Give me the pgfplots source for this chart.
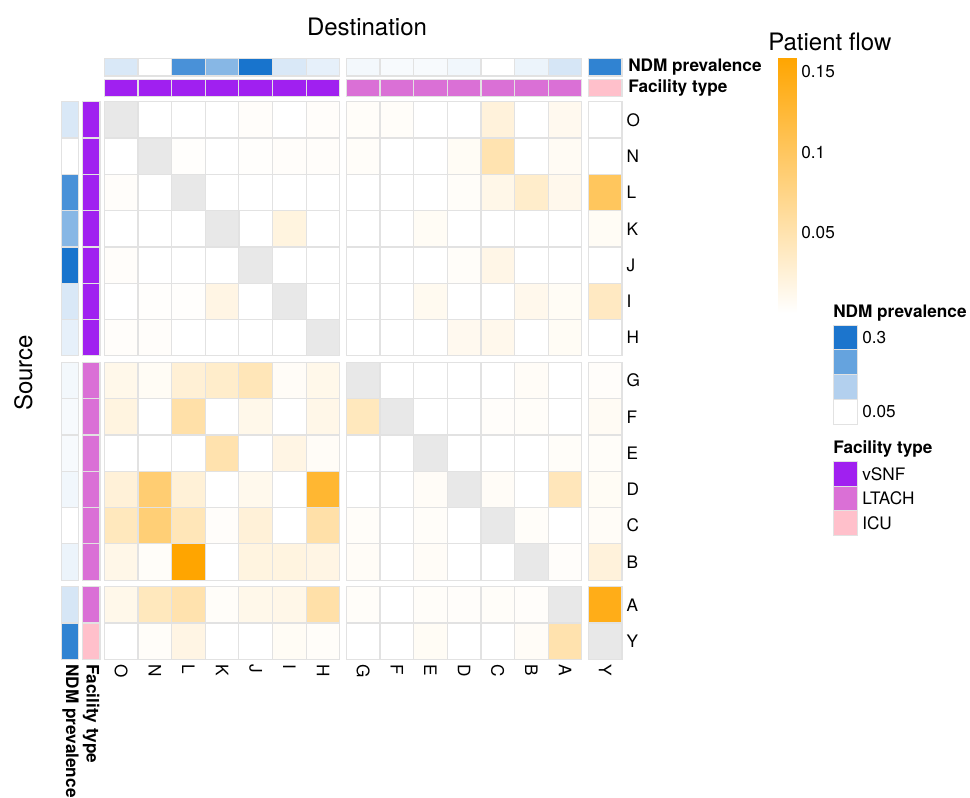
\documentclass[border=0pt]{standalone}
\usepackage{pgfplots}
\pgfplotsset{compat=1.18}
\usepackage{pgfplotstable}
\usepackage{fontspec}
\setmainfont{TeX Gyre Heros}
\usetikzlibrary{calc}

\definecolor{cellborder}{RGB}{226,226,226}
\definecolor{diaggray}{RGB}{232,232,232}
\definecolor{vsnf}{RGB}{160,32,240}
\definecolor{ltach}{RGB}{218,112,214}
\definecolor{icu}{RGB}{255,192,203}
\definecolor{ndmA}{RGB}{28,117,205}
\definecolor{ndmB}{RGB}{101,163,222}
\definecolor{ndmC}{RGB}{179,208,238}

\newcommand\lab{\fontsize{12.9}{15}\selectfont}
\newcommand\ttl{\fontsize{18}{21}\selectfont}

\pgfdeclareplotmark{cell}{\pgfpathrectangle{\pgfpoint{-12.62pt}{-13.61pt}}{\pgfpoint{25.24pt}{27.22pt}}\pgfusepathqfillstroke}
\pgfdeclareplotmark{tcell}{\pgfpathrectangle{\pgfpoint{-12.62pt}{-6.6pt}}{\pgfpoint{25.24pt}{13.2pt}}\pgfusepathqfillstroke}
\pgfdeclareplotmark{lcell}{\pgfpathrectangle{\pgfpoint{-6.6pt}{-13.61pt}}{\pgfpoint{13.2pt}{27.22pt}}\pgfusepathqfillstroke}

% rows = source, columns = destination; order O N L K J I H G F E D C B A Y
\pgfplotstableread{
r c0 c1 c2 c3 c4 c5 c6 c7 c8 c9 c10 c11 c12 c13 c14
0 0 0 0 0 0.003 0 0.003 0.004 0.004 0 0 0.022 0 0.010 0
1 0 0 0.002 0 0.002 0.003 0.003 0.004 0 0 0.006 0.049 0 0.007 0
2 0.003 0 0 0 0 0 0 0 0 0 0.004 0.014 0.032 0.012 0.100
3 0 0 0 0 0 0.020 0 0 0 0.006 0 0 0 0 0.006
4 0.003 0 0 0 0 0 0 0 0 0 0.004 0.015 0 0 0
5 0 0.002 0.002 0.017 0 0 0 0 0 0.009 0 0 0.012 0.006 0.038
6 0.003 0.003 0 0 0 0 0 0 0 0 0.010 0.012 0 0.006 0
7 0.013 0.006 0.026 0.032 0.044 0.005 0.013 0 0 0 0 0 0.005 0 0.003
8 0.019 0 0.054 0 0.013 0 0.014 0.041 0 0 0 0.003 0.004 0 0.007
9 0 0 0 0.050 0 0.017 0.005 0 0 0 0 0 0 0.004 0.004
10 0.024 0.087 0.025 0 0.011 0 0.127 0 0 0.005 0 0.005 0 0.043 0.006
11 0.041 0.085 0.044 0.003 0.024 0 0.054 0.004 0 0.004 0 0 0.004 0 0.005
12 0.014 0.004 0.159 0 0.019 0.019 0.017 0.005 0 0.005 0 0 0 0.003 0.022
13 0.013 0.041 0.050 0.004 0.013 0.014 0.054 0.004 0 0.004 0.003 0.004 0.003 0 0.143
14 0 0.004 0.017 0 0 0.006 0.004 0 0 0.006 0 0 0.005 0.050 0
}\flow

\pgfplotstableread{
i ndm fac
0 0.091 v
1 0.050 v
2 0.246 v
3 0.179 v
4 0.298 v
5 0.091 v
6 0.077 v
7 0.063 l
8 0.059 l
9 0.059 l
10 0.065 l
11 0.050 l
12 0.070 l
13 0.094 l
14 0.272 i
}\ann

\begin{document}
\begin{tikzpicture}
\begin{scope}[x=0.75pt,y=-0.75pt]
\path[use as bounding box] (0,0) rectangle (970,796);
\end{scope}

% main heatmap
\begin{axis}[name=main, at={(78.23pt,-76.28pt)}, anchor=north west,
  scale only axis, width=388.28pt, height=418.2pt,
  xmin=0, xmax=15.386, ymin=0, ymax=15.36, y dir=reverse, clip=false,
  axis line style={draw=none}, major tick length=0pt,
  axis on top,
  xtick={0.5,1.5,2.5,3.5,4.5,5.5,6.5,7.693,8.693,9.693,10.693,11.693,12.693,13.693,14.886},
  xticklabels={O,N,L,K,J,I,H,G,F,E,D,C,B,A,Y},
  ytick={0.5,1.5,2.5,3.5,4.5,5.5,6.5,7.68,8.68,9.68,10.68,11.68,12.68,13.86,14.86},
  yticklabels={O,N,L,K,J,I,H,G,F,E,D,C,B,A,Y},
  xticklabel pos=left, yticklabel pos=right,
  xticklabel style={rotate=-90, anchor=west, font=\lab},
  yticklabel style={anchor=west, font=\lab},
  colormap={flow}{rgb255=(255,255,255) rgb255=(255,165,0)},
  point meta min=0, point meta max=0.159,
  colorbar,
  colorbar style={at={($(parent axis.north east)+(108.75pt,33.5pt)$)}, anchor=north west,
    scale only axis, width=13.7pt, height=192pt,
    ytick={0.05,0.1,0.15}, yticklabels={0.05,0.1,0.15},
    yticklabel style={font=\lab, anchor=west},
    axis line style={draw=none}, major tick length=0pt},
]
\pgfplotsinvokeforeach{0,...,14}{
  \addplot[scatter, only marks, mark=cell, mark options={line width=0.9pt},
    point meta=explicit, scatter/use mapped color={draw=cellborder, fill=mapped color}]
    table[x expr={#1+0.5+0.193*(#1>6)+0.193*(#1>13)},
          y expr={\thisrow{r}+0.5+0.18*(\thisrow{r}>6)+0.18*(\thisrow{r}>12)},
          meta=c#1] {\flow};
}
\addplot[only marks, mark=cell, mark options={fill=diaggray, draw=cellborder, line width=0.9pt}]
  coordinates {(0.5,0.5)(1.5,1.5)(2.5,2.5)(3.5,3.5)(4.5,4.5)(5.5,5.5)(6.5,6.5)
  (7.693,7.68)(8.693,8.68)(9.693,9.68)(10.693,10.68)(11.693,11.68)(12.693,12.68)
  (13.693,13.86)(14.886,14.86)};
\end{axis}

% top annotations
\begin{axis}[at={(78.23pt,-43.73pt)}, anchor=north west,
  scale only axis, width=388.28pt, height=28.8pt,
  xmin=0, xmax=15.386, ymin=58.3, ymax=96.7, y dir=reverse, hide axis, clip=false,
  colormap={ndm}{rgb255=(255,255,255) rgb255=(24,116,205)},
  point meta min=0.05, point meta max=0.3]
\addplot[scatter, only marks, mark=tcell, mark options={line width=0.9pt},
  point meta=explicit, scatter/use mapped color={draw=cellborder, fill=mapped color}]
  table[x expr={\thisrow{i}+0.5+0.193*(\thisrow{i}>6)+0.193*(\thisrow{i}>13)}, y expr=67.2, meta=ndm] {\ann};
\addplot[scatter, only marks, point meta=explicit symbolic,
  scatter/classes={v={mark=tcell, fill=vsnf, draw=cellborder, line width=0.9pt},
                   l={mark=tcell, fill=ltach, draw=cellborder, line width=0.9pt},
                   i={mark=tcell, fill=icu, draw=cellborder, line width=0.9pt}}]
  table[x expr={\thisrow{i}+0.5+0.193*(\thisrow{i}>6)+0.193*(\thisrow{i}>13)}, y expr=88, meta=fac] {\ann};
\end{axis}

% left annotations
\begin{axis}[at={(45.75pt,-76.28pt)}, anchor=north west,
  scale only axis, width=29.25pt, height=418.2pt,
  xmin=61, xmax=100, ymin=0, ymax=15.36, y dir=reverse, hide axis, clip=false,
  colormap={ndm}{rgb255=(255,255,255) rgb255=(24,116,205)},
  point meta min=0.05, point meta max=0.3]
\addplot[scatter, only marks, mark=lcell, mark options={line width=0.9pt},
  point meta=explicit, scatter/use mapped color={draw=cellborder, fill=mapped color}]
  table[x expr=70, y expr={\thisrow{i}+0.5+0.18*(\thisrow{i}>6)+0.18*(\thisrow{i}>12)}, meta=ndm] {\ann};
\addplot[scatter, only marks, point meta=explicit symbolic,
  scatter/classes={v={mark=lcell, fill=vsnf, draw=cellborder, line width=0.9pt},
                   l={mark=lcell, fill=ltach, draw=cellborder, line width=0.9pt},
                   i={mark=lcell, fill=icu, draw=cellborder, line width=0.9pt}}]
  table[x expr=91.15, y expr={\thisrow{i}+0.5+0.18*(\thisrow{i}>6)+0.18*(\thisrow{i}>12)}, meta=fac] {\ann};
\end{axis}

\begin{scope}[x=0.75pt,y=-0.75pt]
\node[font=\ttl, anchor=base, inner sep=0] at (367,35) {Destination};
\node[font=\ttl, rotate=90, anchor=base, inner sep=0] at (32,373) {Source};
\node[font=\lab\bfseries, anchor=west, inner sep=0] at (628,67.2) {NDM prevalence};
\node[font=\lab\bfseries, anchor=west, inner sep=0] at (628,88) {Facility type};
\node[font=\lab\bfseries, rotate=-90, anchor=west, inner sep=0] at (70.5,664) {NDM prevalence};
\node[font=\lab\bfseries, rotate=-90, anchor=west, inner sep=0] at (91.2,664) {Facility type};
\node[font=\ttl, anchor=base west, inner sep=0] at (768,50.5) {Patient flow};
% NDM prevalence legend
\node[font=\lab\bfseries, anchor=base west, inner sep=0] at (833,317) {NDM prevalence};
\filldraw[fill=ndmA, draw=cellborder, line width=0.6pt] (833,325) rectangle (857,349.75);
\filldraw[fill=ndmB, draw=cellborder, line width=0.6pt] (833,349.75) rectangle (857,374.5);
\filldraw[fill=ndmC, draw=cellborder, line width=0.6pt] (833,374.5) rectangle (857,399.25);
\filldraw[fill=white, draw=cellborder, line width=0.6pt] (833,399.25) rectangle (857,424);
\node[font=\lab, anchor=west, inner sep=0] at (862,338) {0.3};
\node[font=\lab, anchor=west, inner sep=0] at (862,412) {0.05};
% Facility type legend
\node[font=\lab\bfseries, anchor=base west, inner sep=0] at (833,453.5) {Facility type};
\filldraw[fill=vsnf, draw=cellborder, line width=0.6pt] (833,461.7) rectangle (857,486);
\filldraw[fill=ltach, draw=cellborder, line width=0.6pt] (833,486) rectangle (857,510.5);
\filldraw[fill=icu, draw=cellborder, line width=0.6pt] (833,510.5) rectangle (857,535);
\node[font=\lab, anchor=west, inner sep=0] at (862,474) {vSNF};
\node[font=\lab, anchor=west, inner sep=0] at (862,498) {LTACH};
\node[font=\lab, anchor=west, inner sep=0] at (862,523) {ICU};
\end{scope}
\end{tikzpicture}
\end{document}
